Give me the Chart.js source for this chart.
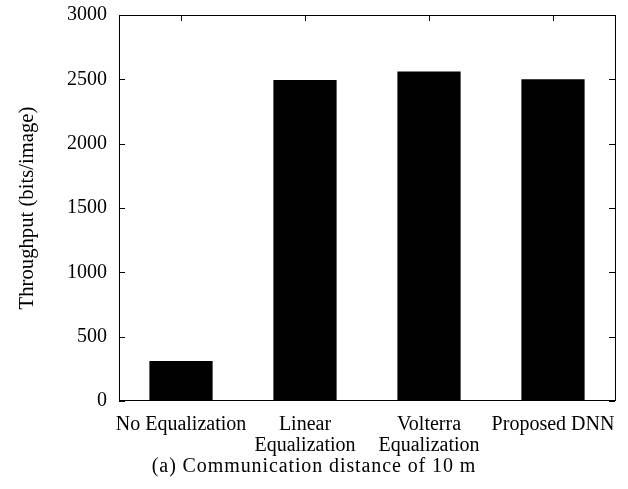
<!DOCTYPE html>
<html>
<head>
<meta charset="utf-8">
<script src="https://cdn.jsdelivr.net/npm/chart.js@4"></script>
<style>
html, body { margin: 0; padding: 0; background: #fff; }
#wrap { width: 628px; height: 489px; }
</style>
</head>
<body>
<div id="wrap"><canvas id="myChart" width="628" height="489"></canvas></div>
<script>
const categories = ["No Equalization", ["Linear", "Equalization"], ["Volterra", "Equalization"], "Proposed DNN"];
const throughput = [310, 2495, 2560, 2500];
const yTicks = [0, 500, 1000, 1500, 2000, 2500, 3000];
const caption = "(a) Communication distance of 10 m";

Chart.defaults.font.family = "'Liberation Serif', 'Times New Roman', serif";
Chart.defaults.font.size = 20;
Chart.defaults.color = "#000";

// box around plot + inward ticks, like gnuplot
const boxTicks = {
  id: 'boxTicks',
  afterDraw(chart) {
    const ctx = chart.ctx;
    const a = chart.chartArea;
    const x = chart.scales.x, y = chart.scales.y;
    ctx.save();
    ctx.strokeStyle = "#000";
    ctx.lineWidth = 1;
    ctx.strokeRect(a.left + 0.5, a.top + 0.5, a.right - a.left, a.bottom - a.top - 1);
    ctx.beginPath();
    yTicks.forEach(function(v) {
      var py = Math.round(y.getPixelForValue(v)) + 0.5;
      ctx.moveTo(a.left, py); ctx.lineTo(a.left + 6, py);
      ctx.moveTo(a.right, py); ctx.lineTo(a.right - 6, py);
    });
    for (var i = 0; i < categories.length; i++) {
      var px = Math.round(x.getPixelForValue(i)) + 0.5;
      ctx.moveTo(px, a.top); ctx.lineTo(px, a.top + 6);
    }
    ctx.stroke();

    // caption under the figure, centred on the page, a bit spaced out
    ctx.font = "20px 'Liberation Serif', serif";
    ctx.fillStyle = "#000";
    ctx.textAlign = "center";
    ctx.textBaseline = "middle";
    if ('letterSpacing' in ctx) ctx.letterSpacing = "0.9px";
    ctx.fillText(caption, chart.width / 2, 467);
    ctx.restore();
  }
};

new Chart("myChart", {
  type: "bar",
  data: {
    labels: categories,
    datasets: [{
      data: throughput,
      backgroundColor: "#000",
      borderWidth: 0,
      categoryPercentage: 1.0,
      barPercentage: 0.51
    }]
  },
  options: {
    responsive: false,
    animation: false,
    layout: { padding: { top: 15, right: 13, left: 0, bottom: 0 } },
    scales: {
      x: {
        grid: { display: false, drawTicks: false },
        border: { display: false },
        ticks: { padding: 13, maxRotation: 0, autoSkip: false, font: { lineHeight: 1.05 } },
        afterFit(s) { s.height = 88; s.paddingLeft = 0; s.paddingRight = 0; }
      },
      y: {
        min: 0,
        max: 3000,
        grid: { display: false, drawTicks: false },
        border: { display: false },
        ticks: { stepSize: 500, padding: 12, callback: function(v) { return String(v); } },
        title: {
          display: true,
          text: "Throughput (bits/image)",
          font: { size: 20.7 },
          padding: { top: 15, bottom: 0 }
        },
        afterFit(s) { s.width = 119; s.paddingTop = 0; s.paddingBottom = 0; }
      }
    },
    plugins: {
      legend: { display: false },
      tooltip: { enabled: false }
    }
  },
  plugins: [boxTicks]
});
</script>
</body>
</html>
